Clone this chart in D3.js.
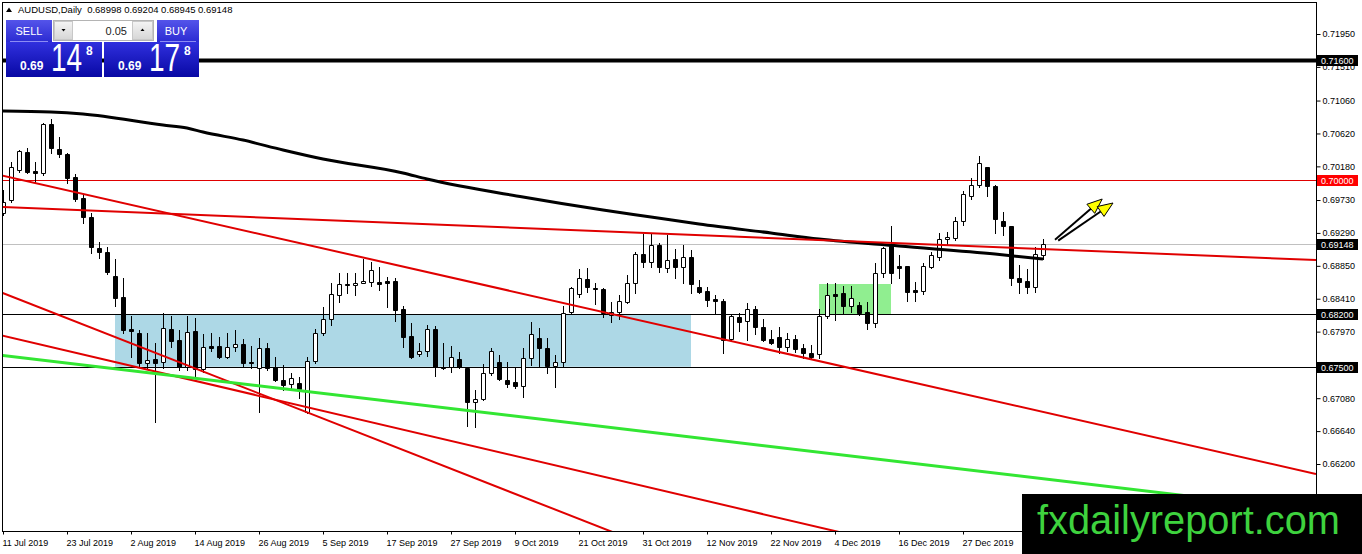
<!DOCTYPE html>
<html>
<head>
<meta charset="utf-8">
<script src="https://cdn.jsdelivr.net/npm/d3@7"></script>
<style>
  body { margin: 0; background: #fff; }
  svg { display: block; font-family: "Liberation Sans", Arial, sans-serif; }
</style>
</head>
<body>
<svg id="chart" width="1362" height="554"></svg>
<script>
// ---- data (daily AUDUSD bars, 11 Jul 2019 onwards, one per trading day) ----
var opens = [
  0.69556,0.69730,0.70131,0.70372,0.70118,0.70091,0.70746,0.70412,0.70345,0.70037,
  0.69757,0.69503,0.69088,0.69034,0.68714,0.68433,0.68005,0.67951,0.67550,0.67604,
  0.67563,0.68005,0.67858,0.67496,0.67978,0.67470,0.67778,0.67778,0.67630,0.67764,
  0.67804,0.67563,0.67483,0.67751,0.67496,0.67323,0.67269,0.67283,0.66895,0.67577,
  0.67951,0.68139,0.68460,0.68607,0.68593,0.68620,0.68633,0.68633,0.68647,0.68647,
  0.68272,0.67911,0.67670,0.67711,0.68005,0.67496,0.67496,0.67604,0.67483,0.67029,
  0.67069,0.67416,0.67563,0.67323,0.67296,0.67242,0.67617,0.67884,0.67751,0.67510,
  0.67563,0.68232,0.68473,0.68674,0.68553,0.68540,0.68192,0.68232,0.68366,0.68620,
  0.69008,0.68901,0.69128,0.68821,0.68941,0.68834,0.68968,0.68567,0.68513,0.68406,
  0.68379,0.67871,0.68165,0.68112,0.68272,0.68032,0.67871,0.67898,0.67764,0.67871,
  0.67751,0.67684,0.67670,0.68179,0.68473,0.68486,0.68313,0.68326,0.68232,0.68085,
  0.68754,0.69115,0.68848,0.68848,0.68526,0.68513,0.68834,0.68968,0.69209,0.69222,
  0.69449,0.69783,0.69931,0.70171,0.69918,0.69449,0.69382,0.68687,0.68647,0.68567,
  0.68998];
var highs = [
  0.69864,0.70238,0.70399,0.70425,0.70238,0.70760,0.70813,0.70572,0.70359,0.70078,
  0.69810,0.69556,0.69168,0.69101,0.68941,0.68687,0.68179,0.67991,0.67951,0.67818,
  0.68219,0.68179,0.67991,0.68179,0.68152,0.67938,0.67951,0.67898,0.67951,0.67991,
  0.67871,0.67778,0.67884,0.67818,0.67630,0.67523,0.67416,0.67363,0.67630,0.68005,
  0.68299,0.68620,0.68754,0.68754,0.68754,0.68941,0.68901,0.68834,0.68700,0.68687,
  0.68313,0.68085,0.67818,0.68058,0.68045,0.67818,0.67778,0.67697,0.67496,0.67189,
  0.67537,0.67751,0.67657,0.67563,0.67496,0.67751,0.68098,0.68018,0.67884,0.67657,
  0.68313,0.68567,0.68807,0.68821,0.68620,0.68553,0.68366,0.68460,0.68727,0.69035,
  0.69275,0.69275,0.69155,0.69262,0.69075,0.69128,0.69061,0.68660,0.68567,0.68460,
  0.68406,0.68206,0.68219,0.68352,0.68313,0.68139,0.67991,0.68032,0.67951,0.67925,
  0.67804,0.67791,0.68272,0.68620,0.68620,0.68580,0.68580,0.68366,0.68366,0.68888,
  0.69101,0.69382,0.68995,0.68848,0.68633,0.68888,0.69035,0.69289,0.69302,0.69503,
  0.69850,0.70024,0.70318,0.70171,0.69931,0.69570,0.69382,0.68861,0.68807,0.69101,
  0.69204];
var lows = [
  0.69529,0.69703,0.70104,0.70091,0.69971,0.70064,0.70359,0.70305,0.69958,0.69717,
  0.69422,0.69021,0.68954,0.68740,0.68313,0.67951,0.67630,0.67496,0.67483,0.66761,
  0.67483,0.67764,0.67457,0.67457,0.67363,0.67430,0.67711,0.67617,0.67617,0.67711,
  0.67496,0.67483,0.66895,0.67457,0.67309,0.67189,0.67189,0.67082,0.66882,0.67550,
  0.67925,0.68058,0.68366,0.68486,0.68460,0.68620,0.68580,0.68526,0.68299,0.68112,
  0.67764,0.67617,0.67644,0.67644,0.67376,0.67470,0.67430,0.67483,0.66708,0.66694,
  0.67055,0.67389,0.67323,0.67229,0.67216,0.67095,0.67523,0.67496,0.67416,0.67229,
  0.67510,0.68219,0.68433,0.68500,0.68339,0.68165,0.68098,0.68139,0.68352,0.68486,
  0.68834,0.68834,0.68767,0.68767,0.68687,0.68620,0.68486,0.68486,0.68313,0.68219,
  0.67684,0.67844,0.67978,0.67858,0.67938,0.67844,0.67804,0.67684,0.67711,0.67697,
  0.67617,0.67604,0.67617,0.68152,0.68125,0.68219,0.68232,0.68192,0.68005,0.68032,
  0.68700,0.68620,0.68687,0.68379,0.68379,0.68473,0.68821,0.68928,0.69142,0.69195,
  0.69396,0.69743,0.69904,0.69783,0.69288,0.69262,0.68593,0.68486,0.68486,0.68500,
  0.68945];
var closes = [
  0.69703,0.70171,0.70385,0.70104,0.70091,0.70746,0.70425,0.70345,0.70024,0.69743,
  0.69503,0.69101,0.69034,0.68767,0.68419,0.67991,0.67978,0.67550,0.67590,0.67550,
  0.68018,0.67844,0.67496,0.67965,0.67470,0.67764,0.67751,0.67630,0.67764,0.67804,
  0.67550,0.67550,0.67751,0.67483,0.67323,0.67256,0.67350,0.67202,0.67577,0.67951,
  0.68139,0.68473,0.68607,0.68593,0.68620,0.68647,0.68794,0.68607,0.68620,0.68259,
  0.67898,0.67630,0.67711,0.68005,0.67496,0.67483,0.67630,0.67496,0.67029,0.67069,
  0.67416,0.67711,0.67336,0.67269,0.67242,0.67617,0.67938,0.67751,0.67510,0.67563,
  0.68219,0.68553,0.68687,0.68567,0.68540,0.68219,0.68232,0.68379,0.68620,0.69008,
  0.68901,0.69128,0.68834,0.68928,0.68834,0.68968,0.68607,0.68500,0.68393,0.68379,
  0.67858,0.68179,0.68098,0.68272,0.68032,0.67858,0.67818,0.67764,0.67871,0.67737,
  0.67684,0.67630,0.68179,0.68460,0.68446,0.68313,0.68419,0.68219,0.68085,0.68754,
  0.69088,0.68754,0.68821,0.68500,0.68500,0.68848,0.68995,0.69209,0.69235,0.69449,
  0.69810,0.69931,0.70225,0.69918,0.69476,0.69382,0.68687,0.68633,0.68567,0.69008,
  0.69148];

// moving average read at a few bars
var maIdx  = [0, 6, 10, 20, 23, 25, 30, 35, 40, 50, 53, 65, 75, 81, 87, 96, 102, 112, 124, 130];
var maVals = [0.70920,0.70907,0.70880,0.70733,0.70693,0.70639,0.70532,0.70399,0.70278,0.70091,
              0.70011,0.69770,0.69596,0.69503,0.69409,0.69289,0.69208,0.69115,0.69008,0.68941];

// axis labels
var priceTicks = [0.71950,0.71510,0.71060,0.70620,0.70180,0.69730,0.69290,0.68850,
                  0.68410,0.67970,0.67080,0.66640,0.66200,0.65760];
var dateTickIdx = [0,8,16,24,32,40,48,56,64,72,80,88,96,104,112,120];
var dateLabels = ["11 Jul 2019","23 Jul 2019","2 Aug 2019","14 Aug 2019","26 Aug 2019",
                  "5 Sep 2019","17 Sep 2019","27 Sep 2019","9 Oct 2019","21 Oct 2019",
                  "31 Oct 2019","12 Nov 2019","22 Nov 2019","4 Dec 2019","16 Dec 2019",
                  "27 Dec 2019"];

// chart objects
var levelPrices = [0.71600, 0.70000, 0.68200, 0.67500];
var levelKinds  = ["thick", "red", "thin", "thin"];
var bidPrice = 0.69148;
// trend lines: [bar, price] -> [bar, price]
var trendA = [[0, 0.69635], [130, 0.69075]];
var trendB = [[0, 0.70055], [100, 0.67625]];
var trendC = [[0, 0.68485], [70, 0.65550]];
var trendD = [[0, 0.67915], [100, 0.65404]];
var trendGreen = [[0, 0.67652], [130, 0.66003]];
// rectangles: bar from, bar to, price top, price bottom
var blueBox  = [14, 86, 0.68200, 0.67500];
var greenBox = [102, 111, 0.68607, 0.68200];
// arrows: [bar, price] -> [bar, price]
var arrow1 = [[131.5, 0.69200], [137.4, 0.69743]];
var arrow2 = [[131.9, 0.69187], [138.75, 0.69690]];

var header = ["AUDUSD,Daily", "0.68998 0.69204 0.68945 0.69148"];

// ---- drawing ----
var svg = d3.select("#chart");
var plotR = 1316, plotB = 531;

var x = d3.scaleLinear().domain([0, 130]).range([3, 1043]);
var y = d3.scaleLinear().domain([0.71950, 0.66200]).range([34, 464]);

svg.append("defs").append("clipPath").attr("id", "plot")
  .append("rect").attr("x", 3).attr("y", 3).attr("width", plotR - 3).attr("height", plotB - 3);

var plot = svg.append("g").attr("clip-path", "url(#plot)");

// background rectangles
[[blueBox, "#add8e6"], [greenBox, "#90ee90"]].forEach(function (b) {
  var r = b[0];
  plot.append("rect")
    .attr("x", x(r[0])).attr("y", y(r[2]))
    .attr("width", x(r[1]) - x(r[0])).attr("height", y(r[3]) - y(r[2]))
    .attr("fill", b[1]);
});

// horizontal levels
plot.append("line").attr("x1", 0).attr("x2", plotR)
  .attr("y1", Math.round(y(bidPrice)) + 0.5).attr("y2", Math.round(y(bidPrice)) + 0.5)
  .attr("stroke", "#c0c0c0");
levelPrices.forEach(function (p, k) {
  var yy = Math.round(y(p)) + 0.5;
  plot.append("line").attr("x1", 0).attr("x2", plotR).attr("y1", yy).attr("y2", yy)
    .attr("stroke", levelKinds[k] == "red" ? "#e00000" : "#000")
    .attr("stroke-width", levelKinds[k] == "thick" ? 4 : 1);
});

// candles
var bars = opens.map(function (o, i) {
  return { i: i, o: o, h: highs[i], l: lows[i], c: closes[i] };
});
var cg = plot.append("g");
cg.selectAll("line.wick").data(bars).join("line").attr("class", "wick")
  .attr("x1", d => Math.round(x(d.i)) + 0.5).attr("x2", d => Math.round(x(d.i)) + 0.5)
  .attr("y1", d => Math.round(y(d.h))).attr("y2", d => Math.round(y(d.l)) + 1)
  .attr("stroke", "#000");
cg.selectAll("path.body").data(bars).join("path").attr("class", "body")
  .attr("d", function (d) {
    var cx = Math.round(x(d.i)) + 0.5;
    var top = Math.round(y(Math.max(d.o, d.c))) + 0.5;
    var hh = Math.round(y(Math.min(d.o, d.c))) - Math.round(y(Math.max(d.o, d.c)));
    return "M" + (cx - 2) + "," + top + "h4v" + hh + "h-4z";
  })
  .attr("fill", d => d.c >= d.o ? "#fff" : "#000")
  .attr("stroke", "#000");

// moving average
plot.append("path")
  .datum(maIdx.map((d, k) => [d, maVals[k]]))
  .attr("d", d3.line().x(d => x(d[0])).y(d => y(d[1])).curve(d3.curveMonotoneX))
  .attr("fill", "none").attr("stroke", "#000").attr("stroke-width", 3);

// trend lines, extended across the chart
function extend(t) {
  var a = t[0], b = t[1], s = (b[1] - a[1]) / (b[0] - a[0]);
  var i0 = x.invert(0), i1 = x.invert(plotR);
  return [[i0, a[1] + s * (i0 - a[0])], [i1, a[1] + s * (i1 - a[0])]];
}
[[trendA, "#e00000", 2], [trendB, "#e00000", 2], [trendC, "#e00000", 2],
 [trendD, "#e00000", 2], [trendGreen, "#33e633", 3]].forEach(function (t) {
  var e = extend(t[0]);
  plot.append("line")
    .attr("x1", x(e[0][0])).attr("y1", y(e[0][1]))
    .attr("x2", x(e[1][0])).attr("y2", y(e[1][1]))
    .attr("stroke", t[1]).attr("stroke-width", t[2]);
});

// arrows
[arrow1, arrow2].forEach(function (a) {
  var x0 = x(a[0][0]), y0 = y(a[0][1]), x1 = x(a[1][0]), y1 = y(a[1][1]);
  var ang = Math.atan2(y1 - y0, x1 - x0), len = 15, hw = 6;
  var bx = x1 - len * Math.cos(ang), by = y1 - len * Math.sin(ang);
  plot.append("line").attr("x1", x0).attr("y1", y0).attr("x2", bx).attr("y2", by)
    .attr("stroke", "#000").attr("stroke-width", 2);
  var px = -Math.sin(ang) * hw, py = Math.cos(ang) * hw;
  plot.append("path")
    .attr("d", "M" + x1 + "," + y1 + "L" + (bx + px) + "," + (by + py) + "L" + (bx - px) + "," + (by - py) + "Z")
    .attr("fill", "#ffff00").attr("stroke", "#000").attr("stroke-width", 1);
});

// frame
svg.append("rect").attr("x", 2.5).attr("y", 2.5).attr("width", plotR - 2).attr("height", plotB - 2)
  .attr("fill", "none").attr("stroke", "#000");

// price axis
var ya = svg.append("g").attr("transform", "translate(" + (plotR + 0.5) + ",0)")
  .call(d3.axisRight(y).tickValues(priceTicks).tickSize(4).tickPadding(2).tickFormat(d3.format(".5f")));
ya.select(".domain").remove();
ya.selectAll("text").attr("font-size", 9).attr("font-family", "Liberation Sans, Arial").attr("fill", "#000");

// highlighted price labels
function priceTag(p, bg) {
  var yy = Math.round(y(p));
  svg.append("rect").attr("x", plotR + 1).attr("y", yy - 5).attr("width", 41).attr("height", 11).attr("fill", bg);
  svg.append("text").attr("x", plotR + 5).attr("y", yy + 4).attr("font-size", 9)
    .attr("fill", "#fff").text(d3.format(".5f")(p));
}
levelPrices.forEach(function (p, k) { priceTag(p, levelKinds[k] == "red" ? "#ff0000" : "#000"); });
priceTag(bidPrice, "#000");

// time axis
var xa = svg.append("g").attr("transform", "translate(0," + (plotB + 0.5) + ")")
  .call(d3.axisBottom(x).tickValues(dateTickIdx).tickSize(3).tickPadding(5)
    .tickFormat((d, k) => dateLabels[k]));
xa.select(".domain").remove();
xa.selectAll("text").attr("text-anchor", "start").attr("dx", -1)
  .attr("font-size", 9).attr("font-family", "Liberation Sans, Arial").attr("fill", "#000");

// header
svg.append("path").attr("d", "M6,12L9,7.5L12,12Z").attr("fill", "#000");
svg.append("text").attr("x", 18).attr("y", 13).attr("font-size", 9.5).attr("fill", "#000")
  .attr("xml:space", "preserve").text(header[0] + "  " + header[1]);

// one-click trading panel
var defs = svg.select("defs");
var g1 = defs.append("linearGradient").attr("id", "btn").attr("x1", 0).attr("y1", 0).attr("x2", 0).attr("y2", 1);
g1.append("stop").attr("offset", 0).attr("stop-color", "#5454ea");
g1.append("stop").attr("offset", 1).attr("stop-color", "#2b2bd2");
var g2 = defs.append("linearGradient").attr("id", "box").attr("x1", 0).attr("y1", 0).attr("x2", 0).attr("y2", 1);
g2.append("stop").attr("offset", 0).attr("stop-color", "#3030de");
g2.append("stop").attr("offset", 1).attr("stop-color", "#0808a4");
var g3 = defs.append("linearGradient").attr("id", "spin").attr("x1", 0).attr("y1", 0).attr("x2", 0).attr("y2", 1);
g3.append("stop").attr("offset", 0).attr("stop-color", "#f4f4f4");
g3.append("stop").attr("offset", 1).attr("stop-color", "#d6d6d6");

var panel = svg.append("g");
panel.append("rect").attr("x", 6).attr("y", 20).attr("width", 46).attr("height", 22).attr("fill", "url(#btn)");
panel.append("rect").attr("x", 157).attr("y", 20).attr("width", 42).attr("height", 22).attr("fill", "url(#btn)");
panel.append("line").attr("x1", 10).attr("x2", 48).attr("y1", 41.5).attr("y2", 41.5).attr("stroke", "#8c8cf4");
panel.append("line").attr("x1", 160).attr("x2", 196).attr("y1", 41.5).attr("y2", 41.5).attr("stroke", "#8c8cf4");
panel.append("text").attr("x", 29).attr("y", 35).attr("text-anchor", "middle").attr("font-size", 11).attr("fill", "#fff").text("SELL");
panel.append("text").attr("x", 176).attr("y", 35).attr("text-anchor", "middle").attr("font-size", 11).attr("fill", "#fff").text("BUY");

panel.append("rect").attr("x", 53.5).attr("y", 20.5).attr("width", 100).attr("height", 20).attr("fill", "#fff").attr("stroke", "#b4b4b4");
panel.append("rect").attr("x", 54.5).attr("y", 21.5).attr("width", 18).attr("height", 18).attr("fill", "url(#spin)").attr("stroke", "#c8c8c8");
panel.append("rect").attr("x", 132.5).attr("y", 21.5).attr("width", 20).attr("height", 18).attr("fill", "url(#spin)").attr("stroke", "#c8c8c8");
panel.append("path").attr("d", "M61.5,29L65.5,29L63.5,31.5Z").attr("fill", "#000");
panel.append("path").attr("d", "M140.5,31L144.5,31L142.5,28.5Z").attr("fill", "#000");
panel.append("text").attr("x", 127).attr("y", 35).attr("text-anchor", "end").attr("font-size", 11).attr("fill", "#222").text("0.05");

[[6, 96, "14"], [104, 95, "17"]].forEach(function (b) {
  panel.append("rect").attr("x", b[0]).attr("y", 42).attr("width", b[1]).attr("height", 35).attr("fill", "url(#box)");
  panel.append("text").attr("x", b[0] + 14).attr("y", 70).attr("font-size", 12).attr("font-weight", "bold")
    .attr("fill", "#fff").text("0.69");
  // big pips: narrow, tall digits
  panel.append("text").attr("transform", "translate(" + (b[0] + 45) + ",71) scale(1,1.36)")
    .attr("font-size", 28).attr("fill", "#fff").text(b[2]);
  panel.append("text").attr("x", b[0] + 80).attr("y", 55).attr("font-size", 12).attr("font-weight", "bold")
    .attr("fill", "#fff").text("8");
});

// watermark
svg.append("rect").attr("x", 1022).attr("y", 494).attr("width", 340).attr("height", 60).attr("fill", "#000");
svg.append("text").attr("x", 1037).attr("y", 534).attr("font-size", 40).attr("fill", "#3ed23e")
  .attr("textLength", 303).attr("lengthAdjust", "spacingAndGlyphs").text("fxdailyreport.com");
</script>
</body>
</html>
